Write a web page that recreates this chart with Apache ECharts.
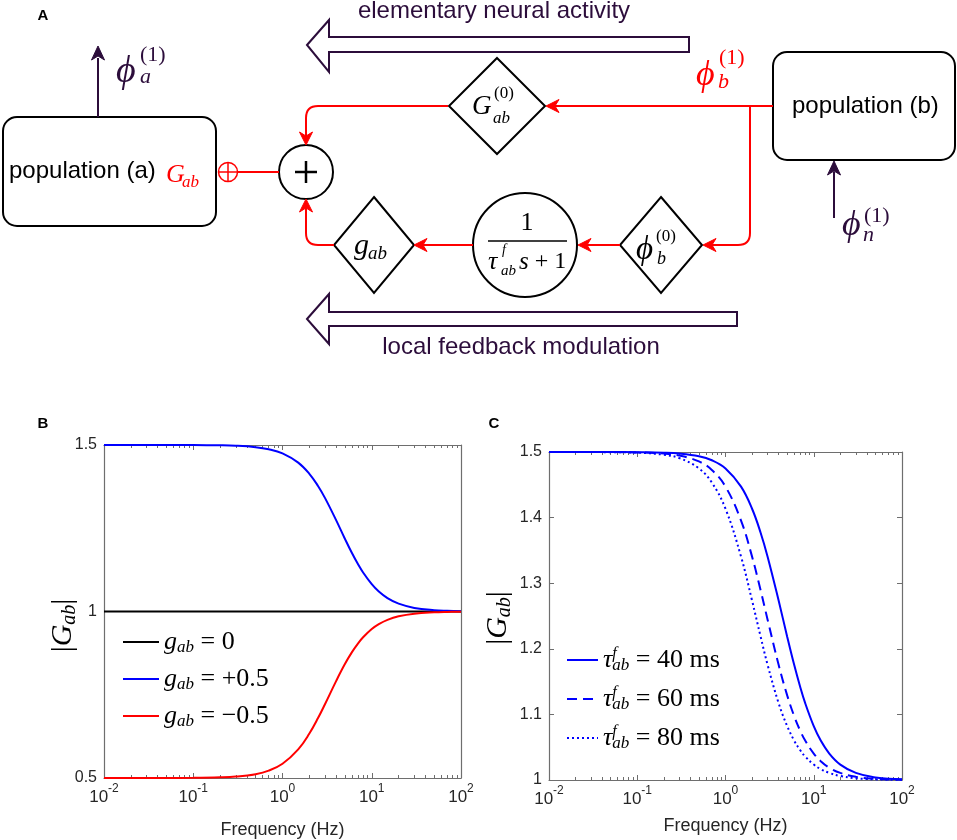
<!DOCTYPE html>
<html><head><meta charset="utf-8">
<script src="https://cdn.jsdelivr.net/npm/echarts@6/dist/echarts.min.js"></script>
<style>html,body{margin:0;padding:0;background:#fff}#c{width:957px;height:840px}</style>
</head><body><div id="c"></div>
<script>
// ---------- data ----------
const freqHz   = [0.01,0.02,0.05,0.1,0.2,0.3,0.5,0.7,1,1.5,2,2.5,3,4,5,6,7,8,10,12,15,20,30,50,70,100];
// panel B
const gabZero  = [1,1,1,1,1,1,1,1,1,1,1,1,1,1,1,1,1,1,1,1,1,1,1,1,1,1];
const gabPlus  = [1.5,1.5,1.5,1.4997,1.499,1.4977,1.4935,1.4874,1.475,1.4472,1.4135,1.377,1.3405,1.2735,1.2185,1.1755,1.1425,1.1171,1.0821,1.0601,1.0403,1.0235,1.0108,1.0039,1.002,1.001];
const gabMinus = [0.5,0.5,0.5002,0.5005,0.5019,0.5042,0.5115,0.522,0.5427,0.5859,0.6335,0.6799,0.7224,0.7918,0.8421,0.878,0.9038,0.9226,0.9474,0.9621,0.975,0.9856,0.9935,0.9976,0.9988,0.9994];
// panel C
const tau40 = [1.5,1.5,1.5,1.4997,1.499,1.4977,1.4935,1.4874,1.475,1.4472,1.4135,1.377,1.3405,1.2735,1.2185,1.1755,1.1425,1.1171,1.0821,1.0601,1.0403,1.0235,1.0108,1.0039,1.002,1.001];
const tau60 = [1.5,1.5,1.4999,1.4994,1.4977,1.4947,1.4856,1.4726,1.4472,1.3954,1.3405,1.2892,1.2444,1.1755,1.129,1.0974,1.0756,1.0601,1.0403,1.0287,1.0188,1.0108,1.0048,1.0018,1.0009,1.0004];
const tau80 = [1.5,1.5,1.4997,1.499,1.4958,1.4907,1.475,1.4534,1.4135,1.3405,1.2735,1.2185,1.1755,1.1171,1.0821,1.0601,1.0457,1.0358,1.0235,1.0166,1.0108,1.0061,1.0027,1.001,1.0005,1.0003];
// axes
const xMinHz = 0.01, xMaxHz = 100;
const yRangeB = [0.5, 1.5], yStepB = 0.5;
const yRangeC = [1, 1.5], yStepC = 0.1;
const minorTickHz = [0.02,0.03,0.04,0.05,0.06,0.07,0.08,0.09,0.2,0.3,0.4,0.5,0.6,0.7,0.8,0.9,2,3,4,5,6,7,8,9,20,30,40,50,60,70,80,90];

// ---------- styles ----------
const SANS = '"Liberation Sans", Arial, Helvetica, sans-serif';
const SERIF = '"Liberation Serif", "DejaVu Serif", serif';
const PURPLE = '#2c0d3b';
const RED = '#ff0000';
const AX = '#6e6e6e';
const TXT = '#262626';

const pairs = (xs, ys) => xs.map((x, i) => [x, ys[i]]);

// ---------- diagram helpers ----------
function txt(x, y, text, font, fill, align, rich) {
  return {type:'text', x:x, y:y, silent:true, z:10,
    style:{text:text, font:font, fill:fill, textAlign:align||'left', align:align||'left',
      textVerticalAlign:'middle', verticalAlign:'middle', rich:rich}};
}
function seg(pts, stroke, w) { return {type:'polyline', shape:{points:pts}, z:7, style:{stroke:stroke, lineWidth:w, fill:null}}; }
function curve(x1,y1,cx,cy,x2,y2,stroke,w) { return {type:'bezierCurve', z:7, shape:{x1:x1,y1:y1,x2:x2,y2:y2,cpx1:cx,cpy1:cy}, style:{stroke:stroke, lineWidth:w, fill:null}}; }
function poly(pts, stroke, fill, w) { return {type:'polygon', shape:{points:pts}, style:{stroke:stroke, fill:fill, lineWidth:w}, z:5}; }
function head(x, y, dir, color, L, W, N) {
  L = L || 13; W = W || 6.5; N = N || 4;
  const d = {left:[-1,0], right:[1,0], up:[0,-1], down:[0,1]}[dir];
  const dx = d[0], dy = d[1], px = -dy, py = dx;
  const bx = x - dx*L, by = y - dy*L;
  const p = poly([[x,y],[bx+px*W,by+py*W],[x-dx*(L-N),y-dy*(L-N)],[bx-px*W,by-py*W]], color, color, 1);
  p.z = 8; return p;
}
function diamond(cx, cy, w, h) { return poly([[cx,cy-h],[cx+w,cy],[cx,cy+h],[cx-w,cy]], '#000', '#fff', 2); }
function circ(cx, cy, r, stroke, w) { return {type:'circle', shape:{cx:cx,cy:cy,r:r}, style:{stroke:stroke, fill:'#fff', lineWidth:w}, z:5}; }
function rrect(x, y, w, h) { return {type:'rect', shape:{x:x,y:y,width:w,height:h,r:14}, style:{stroke:'#000', fill:'#fff', lineWidth:2}, z:5}; }

const it = (s) => 'italic ' + s + 'px ' + SERIF;
const rm = (s) => s + 'px ' + SERIF;

const diagram = [
  // panel letters
  txt(43, 16, 'A', 'bold 15px ' + SANS, '#000', 'center'),
  txt(43, 424, 'B', 'bold 15px ' + SANS, '#000', 'center'),
  txt(494, 424, 'C', 'bold 15px ' + SANS, '#000', 'center'),
  // big hollow arrows
  poly([[307,45],[329,20],[329,37],[689,37],[689,52],[329,52],[329,72]], PURPLE, '#fff', 2),
  txt(494, 11, 'elementary neural activity', '24px ' + SANS, PURPLE, 'center'),
  poly([[307,319],[329,294],[329,312],[737,312],[737,326],[329,326],[329,344]], PURPLE, '#fff', 2),
  txt(521, 347, 'local feedback modulation', '24px ' + SANS, PURPLE, 'center'),
  // red signal paths
  seg([[773,106],[552,106]], RED, 2), head(546,106,'left',RED),
  seg([[750,106],[750,233]], RED, 2), curve(750,233,750,245,738,245,RED,2),
  seg([[738,245],[708,245]], RED, 2), head(703,245,'left',RED),
  seg([[620,245],[584,245]], RED, 2), head(578,245,'left',RED),
  seg([[473,245],[420,245]], RED, 2), head(414,245,'left',RED),
  seg([[334,245],[318,245]], RED, 2), curve(318,245,306,245,306,233,RED,2),
  seg([[306,233],[306,205]], RED, 2), head(306,199,'up',RED),
  seg([[448,106],[318,106]], RED, 2), curve(318,106,306,106,306,118,RED,2),
  seg([[306,118],[306,139]], RED, 2), head(306,145,'down',RED),
  seg([[279,172],[238,172]], RED, 2),
  circ(228,172,9.5,RED,1.5),
  seg([[218.5,172],[237.5,172]], RED, 1.5), seg([[228,162.5],[228,181.5]], RED, 1.5),
  // boxes
  rrect(3,117,213,109),
  txt(9, 171, 'population (a)', '24px ' + SANS, '#000'),
  txt(166, 175, 'G', it(26), RED), txt(182, 183, 'ab', it(17), RED),
  rrect(773,52,182,108),
  txt(792, 106, 'population (b)', '24px ' + SANS, '#000'),
  // summing node
  circ(306,172,27,'#000',2),
  seg([[295,172],[317,172]], '#000', 2.5), seg([[306,161],[306,183]], '#000', 2.5),
  // diamonds
  diamond(497,106,48,48),
  txt(472, 107, 'G', it(27), '#000'), txt(494, 94, '(0)', rm(17), '#000'), txt(493, 119, 'ab', it(17), '#000'),
  diamond(661,245,41,48),
  txt(636, 250, 'ϕ', it(33), '#000'), txt(656, 237, '(0)', rm(17), '#000'), txt(657, 259, 'b', it(18), '#000'),
  diamond(374,245,40,48),
  txt(354, 246, 'g', it(30), '#000'), txt(368, 254, 'ab', it(19), '#000'),
  // low-pass filter
  circ(525,245,52,'#000',2),
  txt(527, 223, '1', rm(26), '#000', 'center'),
  seg([[488,241],[567,241]], '#000', 1.5),
  txt(488, 262, 'τ', it(26), '#000'), txt(502, 250, 'f', it(14), '#000'), txt(501, 271, 'ab', it(15), '#000'),
  txt(519, 262, '{i|s}{r| + 1}', rm(24), '#000', 'left', {i:{fontFamily:SERIF, fontStyle:'italic', fontSize:25}, r:{fontFamily:SERIF, fontSize:24}}),
  // population outputs / inputs
  seg([[98,117],[98,58]], PURPLE, 2), head(98,46,'up',PURPLE,14,6.5,4),
  txt(116, 72, 'ϕ', it(38), PURPLE), txt(140, 55, '(1)', rm(22), PURPLE), txt(140, 77, 'a', it(22), PURPLE),
  txt(696, 76, 'ϕ', it(36), RED), txt(719, 58, '(1)', rm(22), RED), txt(718, 82, 'b', it(22), RED),
  seg([[834,218],[834,172]], PURPLE, 2), head(834,161,'up',PURPLE,14,6.5,4),
  txt(842, 226, 'ϕ', it(36), PURPLE), txt(864, 216, '(1)', rm(22), PURPLE), txt(863, 235, 'n', it(22), PURPLE)
];

// ---------- chart helpers ----------
const xLabelRich = {
  b:{fontSize:17, fontFamily:SANS, color:TXT, lineHeight:28},
  s:{fontSize:12, fontFamily:SANS, color:TXT, lineHeight:12, verticalAlign:'top'}
};
const yNameRich = {
  n:{fontFamily:SERIF, fontSize:30, color:'#000', lineHeight:34},
  g:{fontFamily:SERIF, fontStyle:'italic', fontSize:30, color:'#000', lineHeight:34},
  s:{fontFamily:SERIF, fontStyle:'italic', fontSize:20, color:'#000', lineHeight:20, padding:[16,0,0,0], verticalAlign:'bottom'}
};
function xAxes(grid, nameGap) {
  const line = {show:true, onZero:false, lineStyle:{color:AX, width:1.2}};
  return [
    {type:'log', logBase:10, gridIndex:grid, position:'bottom', min:xMinHz, max:xMaxHz,
     axisLine:line, axisTick:{show:true, inside:true, length:5, lineStyle:{color:AX}},
     splitLine:{show:false}, minorTick:{show:false},
     axisLabel:{margin:5, fontSize:17, fontFamily:SANS, color:TXT,
       formatter:function(v){ return '{b|10}{s|' + Math.round(Math.log10(v)) + '}'; }, rich:xLabelRich},
     name:'Frequency (Hz)', nameLocation:'middle', nameGap:nameGap, nameMoveOverlap:false,
     nameTextStyle:{fontFamily:SANS, fontSize:18, color:TXT}},
    {type:'value', gridIndex:grid, position:'top', min:-2, max:2, interval:1,
     axisLine:line, axisTick:{show:true, inside:true, length:5, lineStyle:{color:AX}},
     axisLabel:{show:false}, splitLine:{show:false}},
    {type:'value', gridIndex:grid, position:'bottom', min:-2, max:2,
     axisLine:{show:false, onZero:false}, axisTick:{show:true, inside:true, length:3, lineStyle:{color:AX}, customValues:minorTickHz.map(Math.log10)},
     axisLabel:{show:false}, splitLine:{show:false}},
    {type:'value', gridIndex:grid, position:'top', min:-2, max:2,
     axisLine:{show:false, onZero:false}, axisTick:{show:true, inside:true, length:3, lineStyle:{color:AX}, customValues:minorTickHz.map(Math.log10)},
     axisLabel:{show:false}, splitLine:{show:false}}
  ];
}
function yAxes(grid, range, step, nameGap, shift) {
  const line = {show:true, onZero:false, lineStyle:{color:AX, width:1.2}};
  return [
    {type:'value', gridIndex:grid, position:'left', min:range[0], max:range[1], interval:step,
     axisLine:line, axisTick:{show:true, inside:true, length:5, lineStyle:{color:AX}},
     splitLine:{show:false},
     axisLabel:{margin:7, fontFamily:SANS, fontSize:16, color:TXT},
     name:'{n||}{g|G}{s|ab}{n||}', nameLocation:'middle', nameRotate:90, nameGap:nameGap, nameMoveOverlap:false,
     nameTextStyle:{rich:yNameRich, padding:[0, shift, 0, 0]}},
    {type:'value', gridIndex:grid, position:'right', min:range[0], max:range[1], interval:step,
     axisLine:line, axisTick:{show:true, inside:true, length:5, lineStyle:{color:AX}},
     axisLabel:{show:false}, splitLine:{show:false}}
  ];
}
function lineSeries(name, xi, yi, data, color, type) {
  return {type:'line', name:name, xAxisIndex:xi, yAxisIndex:yi, data:data,
    symbol:'none', showSymbol:false, smooth:0.4,
    lineStyle:{color:color, width:2, type:type||'solid'}, itemStyle:{color:color}};
}

const legendTextB = {
  gZero:'{g|g}{sub|ab}{r| = 0}',
  gPlus:'{g|g}{sub|ab}{r| = +0.5}',
  gMinus:'{g|g}{sub|ab}{r| = −0.5}'
};
const legendTextC = {
  t40:'{g|τ}{f|f}{sub|ab}{r| = 40 ms}',
  t60:'{g|τ}{f|f}{sub|ab}{r| = 60 ms}',
  t80:'{g|τ}{f|f}{sub|ab}{r| = 80 ms}'
};
const legendRich = {
  g:{fontFamily:SERIF, fontStyle:'italic', fontSize:26, lineHeight:28, color:'#000'},
  f:{fontFamily:SERIF, fontStyle:'italic', fontSize:16, lineHeight:16, verticalAlign:'top', color:'#000', width:0.01},
  sub:{fontFamily:SERIF, fontStyle:'italic', fontSize:17, lineHeight:16, padding:[16,0,0,0], verticalAlign:'bottom', color:'#000'},
  r:{fontFamily:SERIF, fontSize:26, lineHeight:28, color:'#000'}
};

const option = {
  animation:false,
  backgroundColor:'#fff',
  grid:[
    {left:104, top:445, width:357, height:333},
    {left:549, top:452, width:353, height:328}
  ],
  xAxis: xAxes(0, 43).concat(xAxes(1, 37)),
  yAxis: yAxes(0, yRangeB, yStepB, 24, 28).concat(yAxes(1, yRangeC, yStepC, 34, 4)),
  legend:[
    {left:122, top:623, padding:0, orient:'vertical', itemWidth:36, itemHeight:14, itemGap:4,
     selectedMode:false, data:['gZero','gPlus','gMinus'], itemStyle:{opacity:0},
     formatter:function(n){ return legendTextB[n]; }, textStyle:{rich:legendRich}},
    {left:566, top:641, padding:0, orient:'vertical', itemWidth:31, itemHeight:14, itemGap:6,
     selectedMode:false, data:['t40','t60','t80'], itemStyle:{opacity:0},
     formatter:function(n){ return legendTextC[n]; }, textStyle:{rich:legendRich}}
  ],
  series:[
    lineSeries('gZero', 0, 0, pairs(freqHz, gabZero), '#000000'),
    lineSeries('gPlus', 0, 0, pairs(freqHz, gabPlus), '#0000ff'),
    lineSeries('gMinus', 0, 0, pairs(freqHz, gabMinus), '#ff0000'),
    lineSeries('t40', 4, 2, pairs(freqHz, tau40), '#0000ff', 'solid'),
    lineSeries('t60', 4, 2, pairs(freqHz, tau60), '#0000ff', [10,6]),
    lineSeries('t80', 4, 2, pairs(freqHz, tau80), '#0000ff', [2,3])
  ],
  graphic:{elements:diagram}
};
const chart = echarts.init(document.getElementById('c'), null, {renderer:'canvas'});
chart.setOption(option);
</script></body></html>
